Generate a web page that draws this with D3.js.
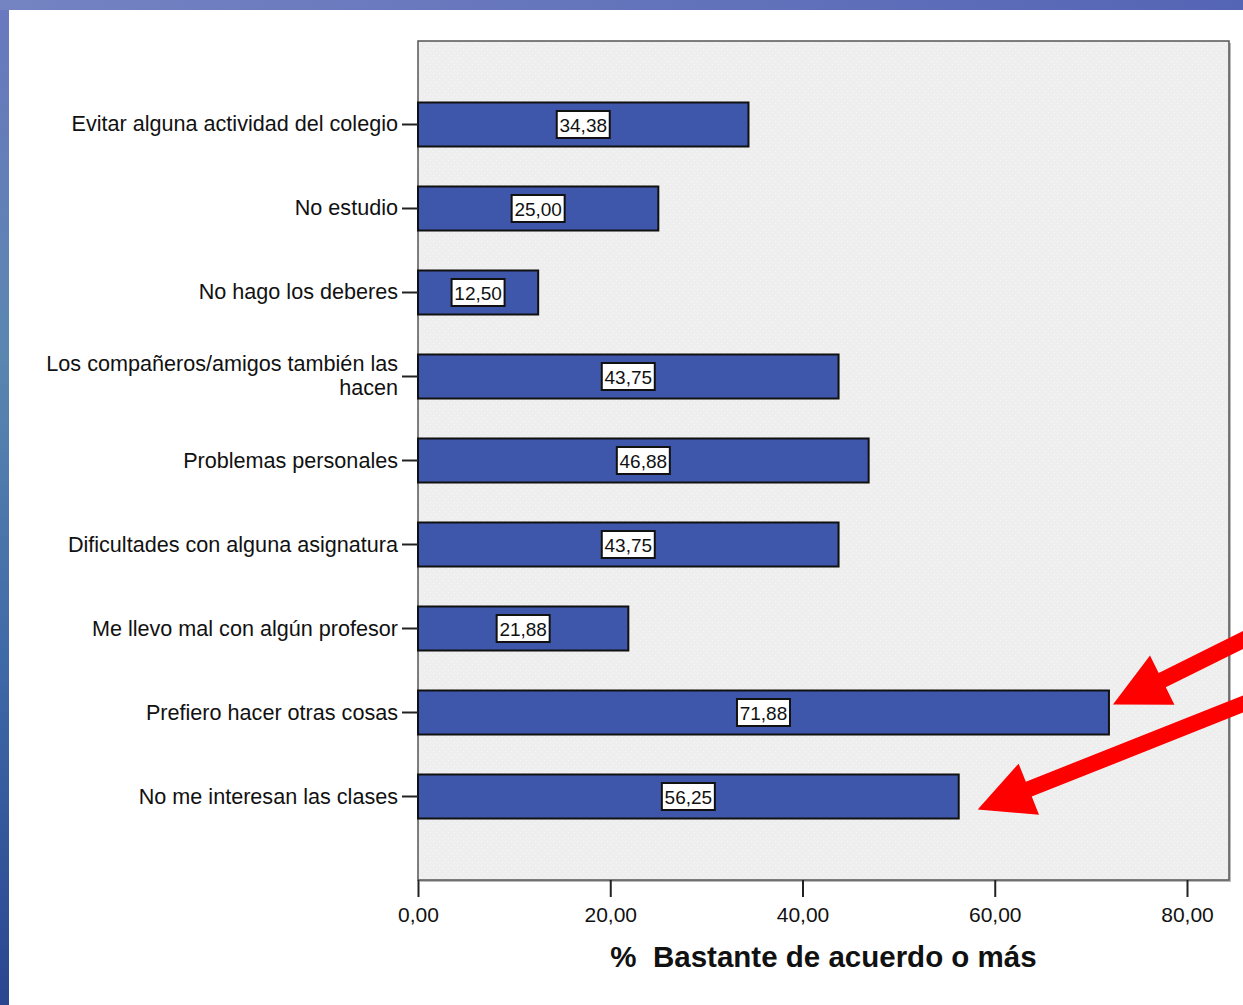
<!DOCTYPE html>
<html>
<head>
<meta charset="utf-8">
<script src="https://cdn.jsdelivr.net/npm/d3@7"></script>
<style>
  html, body { margin: 0; padding: 0; background: #fff; }
  svg { display: block; }
  text { font-family: "Liberation Sans", Arial, sans-serif; }
</style>
</head>
<body>
<svg id="chart" width="1243" height="1005"></svg>
<script>
// ---- data ----
const categories = [
  "Evitar alguna actividad del colegio",
  "No estudio",
  "No hago los deberes",
  "Los compañeros/amigos también las|hacen",
  "Problemas personales",
  "Dificultades con alguna asignatura",
  "Me llevo mal con algún profesor",
  "Prefiero hacer otras cosas",
  "No me interesan las clases"
];
const values = [34.38, 25.00, 12.50, 43.75, 46.88, 43.75, 21.88, 71.88, 56.25];
const xTicks = [0, 20, 40, 60, 80];
const xTitle = "%  Bastante de acuerdo o más";
const highlighted = ["Prefiero hacer otras cosas", "No me interesan las clases"];

// ---- layout ----
const W = 1243, H = 1005;
const plot = { left: 418, right: 1229, top: 41, bottom: 880 };
const svg = d3.select("#chart");
const defs = svg.append("defs");

// slide background
const grad = defs.append("linearGradient").attr("id", "bg").attr("x1", 0).attr("y1", 0).attr("x2", 0).attr("y2", 1);
grad.append("stop").attr("offset", "0%").attr("stop-color", "#6a78c0");
grad.append("stop").attr("offset", "35%").attr("stop-color", "#5b86b0");
grad.append("stop").attr("offset", "65%").attr("stop-color", "#3f6aa8");
grad.append("stop").attr("offset", "100%").attr("stop-color", "#2a4690");
svg.append("rect").attr("width", W).attr("height", H).attr("fill", "url(#bg)");
const gradTop = defs.append("linearGradient").attr("id", "bgTop").attr("x1", 0).attr("y1", 0).attr("x2", 1).attr("y2", 0);
gradTop.append("stop").attr("offset", "0%").attr("stop-color", "#7483c2");
gradTop.append("stop").attr("offset", "100%").attr("stop-color", "#5565b5");
svg.append("rect").attr("x", 0).attr("y", 0).attr("width", W).attr("height", 10).attr("fill", "url(#bgTop)");
svg.append("rect").attr("x", 9).attr("y", 10).attr("width", W - 9).attr("height", H - 10).attr("fill", "#ffffff");

// dotted plot pattern
const pat = defs.append("pattern").attr("id", "dots").attr("width", 6).attr("height", 6).attr("patternUnits", "userSpaceOnUse");
pat.append("rect").attr("width", 6).attr("height", 6).attr("fill", "#eeeeee");
pat.append("rect").attr("x", 1).attr("y", 1).attr("width", 1).attr("height", 1).attr("fill", "#f8f8f8");
pat.append("rect").attr("x", 4).attr("y", 4).attr("width", 1).attr("height", 1).attr("fill", "#f8f8f8");

// scales
const x = d3.scaleLinear().domain([0, 80]).range([plot.left, 1187]);
const y = d3.scaleBand().domain(categories).range([plot.top, plot.bottom])
  .paddingInner(0.476).paddingOuter(0.732);

// plot area with shadow
svg.append("rect").attr("x", plot.left + 2).attr("y", plot.top + 2)
  .attr("width", plot.right - plot.left).attr("height", plot.bottom - plot.top)
  .attr("fill", "#bbbbbb");
svg.append("rect").attr("x", plot.left).attr("y", plot.top)
  .attr("width", plot.right - plot.left).attr("height", plot.bottom - plot.top)
  .attr("fill", "url(#dots)").attr("stroke", "#555555").attr("stroke-width", 1.5);

// bars
const data = categories.map((c, i) => ({ c, v: values[i] }));
svg.append("g").selectAll("rect").data(data).join("rect")
  .attr("x", x(0))
  .attr("y", d => y(d.c))
  .attr("width", d => x(d.v) - x(0))
  .attr("height", y.bandwidth())
  .attr("fill", "#3f57aa")
  .attr("stroke", "#111111")
  .attr("stroke-width", 2);

// value labels
const fmt = v => v.toFixed(2).replace(".", ",");
const lab = svg.append("g").selectAll("g").data(data).join("g")
  .attr("transform", d => `translate(${(x(0) + x(d.v)) / 2},${y(d.c) + y.bandwidth() / 2})`);
lab.append("rect").attr("x", -26.5).attr("y", -13.5).attr("width", 53).attr("height", 27)
  .attr("fill", "#ffffff").attr("stroke", "#111111").attr("stroke-width", 2);
lab.append("text").attr("text-anchor", "middle").attr("y", 7.5)
  .attr("font-size", 19).attr("fill", "#111").text(d => fmt(d.v));

// y axis ticks + labels
const yAxis = svg.append("g");
yAxis.selectAll("line").data(categories).join("line")
  .attr("x1", plot.left - 16).attr("x2", plot.left)
  .attr("y1", c => y(c) + y.bandwidth() / 2).attr("y2", c => y(c) + y.bandwidth() / 2)
  .attr("stroke", "#222").attr("stroke-width", 2);
yAxis.selectAll("text").data(categories).join("text")
  .attr("text-anchor", "end")
  .attr("font-size", 21.6)
  .attr("fill", "#111")
  .each(function(c) {
    const parts = c.split("|");
    const cy = y(c) + y.bandwidth() / 2;
    const t = d3.select(this);
    if (parts.length === 1) {
      t.append("tspan").attr("x", plot.left - 20).attr("y", cy + 7).text(parts[0]);
    } else {
      t.append("tspan").attr("x", plot.left - 20).attr("y", cy - 5).text(parts[0]);
      t.append("tspan").attr("x", plot.left - 20).attr("y", cy + 19).text(parts[1]);
    }
  });

// x axis
const xAxis = svg.append("g").attr("transform", `translate(0,${plot.bottom})`)
  .call(d3.axisBottom(x).tickValues(xTicks).tickSize(17).tickSizeOuter(0).tickFormat(fmt));
xAxis.select(".domain").remove();
xAxis.selectAll(".tick line").attr("stroke", "#222").attr("stroke-width", 2);
xAxis.selectAll(".tick text").attr("font-size", 21).attr("fill", "#111")
  .attr("font-family", "Liberation Sans, Arial, sans-serif").attr("dy", 0).attr("y", 42);

svg.append("text").attr("x", (plot.left + plot.right) / 2).attr("y", 967)
  .attr("text-anchor", "middle").attr("font-size", 29.5).attr("font-weight", "bold")
  .style("white-space", "pre")
  .attr("fill", "#111").text(xTitle);

// red annotation arrows pointing at highlighted bars
const arrowSpecs = [
  { c: highlighted[0], dx: 4, dy: -8, tailY: 640 },
  { c: highlighted[1], dx: 19, dy: 13, tailY: 704 }
];
const arrowG = svg.append("g");
arrowSpecs.forEach(s => {
  const v = values[categories.indexOf(s.c)];
  const tx = x(v) + s.dx, ty = y(s.c) + y.bandwidth() / 2 + s.dy;
  const ex = W + 20;
  const ey = s.tailY + (s.tailY - ty) / (W - tx) * 20;
  const len = Math.hypot(ex - tx, ey - ty);
  const ux = (ex - tx) / len, uy = (ey - ty) / len;
  const px = -uy, py = ux;
  const L = 55, hw = 27.5, sw = 8;
  const bx = tx + ux * L, by = ty + uy * L;
  const pts = [
    [tx, ty],
    [bx + px * hw, by + py * hw],
    [bx + px * sw, by + py * sw],
    [ex + px * sw, ey + py * sw],
    [ex - px * sw, ey - py * sw],
    [bx - px * sw, by - py * sw],
    [bx - px * hw, by - py * hw]
  ];
  arrowG.append("path").attr("d", d3.line()(pts) + "Z").attr("fill", "#ff0000");
});
</script>
</body>
</html>
